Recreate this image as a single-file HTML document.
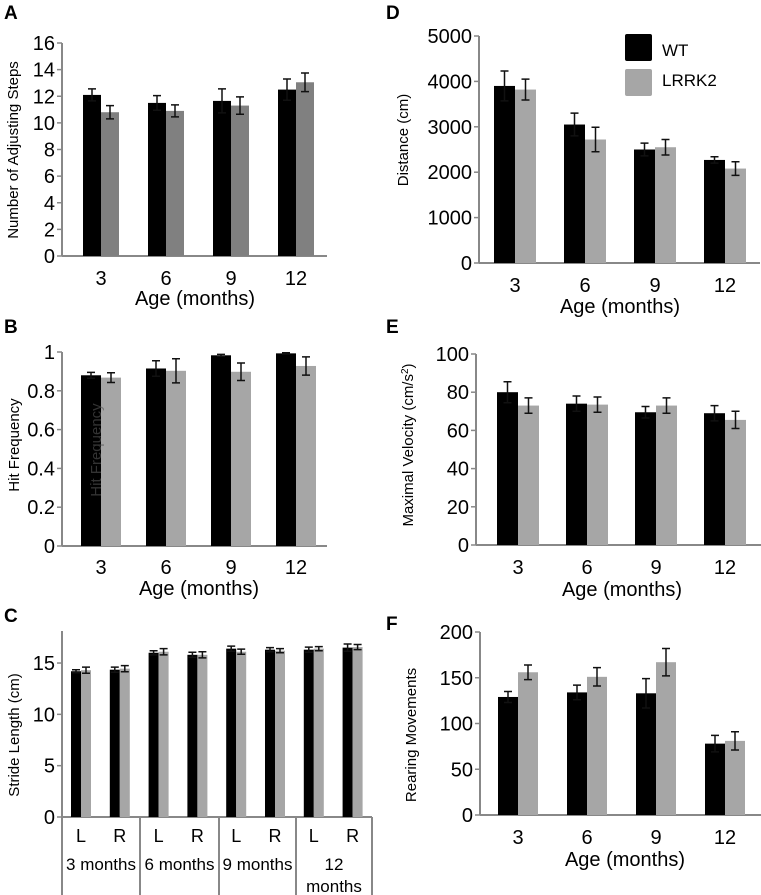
<!DOCTYPE html>
<html><head><meta charset="utf-8"><style>
html,body{margin:0;padding:0;background:#fff;}
svg{display:block;font-family:"Liberation Sans",Arial,sans-serif;}
</style></head><body>
<svg id="fig" width="761" height="895" viewBox="0 0 761 895">
<g font-weight="bold" font-size="19">
<text x="4" y="19">A</text>
<text x="4" y="333">B</text>
<text x="4" y="622">C</text>
<text x="386" y="19">D</text>
<text x="386" y="333">E</text>
<text x="386" y="630">F</text>
</g>
<g>
<rect x="625" y="34" width="27" height="27" rx="2" fill="#000"/>
<text x="662" y="56" font-size="17">WT</text>
<rect x="625" y="69" width="27" height="27" rx="2" fill="#a6a6a6"/>
<text x="662" y="86" font-size="17">LRRK2</text>
</g>
</svg>
<script>
const ages = ["3","6","9","12"];
const aWT = [12.1,11.5,11.65,12.5];
const aWTerr = [0.45,0.55,0.9,0.8];
const aLR = [10.8,10.9,11.3,13.05];
const aLRerr = [0.5,0.45,0.65,0.7];
const aTicks = [0,2,4,6,8,10,12,14,16];
const bWT = [0.88,0.915,0.983,0.993];
const bWTerr = [0.015,0.04,0.005,0.003];
const bLR = [0.868,0.903,0.898,0.928];
const bLRerr = [0.025,0.062,0.045,0.047];
const bTicks = [0,0.2,0.4,0.6,0.8,1];
const bTickLabels = ["0","0.2","0.4","0.6","0.8","1"];
const cCats = ["L","R","L","R","L","R","L","R"];
const cWT = [14.2,14.35,16.0,15.8,16.4,16.3,16.3,16.5];
const cWTerr = [0.15,0.25,0.2,0.25,0.25,0.2,0.25,0.35];
const cLR = [14.3,14.45,16.1,15.8,16.1,16.2,16.4,16.55];
const cLRerr = [0.3,0.3,0.3,0.3,0.25,0.2,0.2,0.25];
const cTicks = [0,5,10,15];
const dWT = [3900,3050,2500,2270];
const dWTerr = [330,250,140,70];
const dLR = [3820,2720,2550,2080];
const dLRerr = [230,270,170,150];
const dTicks = [0,1000,2000,3000,4000,5000];
const eWT = [80,74,69.5,69];
const eWTerr = [5.5,4,3,4];
const eLR = [73,73.5,73,65.5];
const eLRerr = [4,4,4,4.5];
const eTicks = [0,20,40,60,80,100];
const fWT = [129,134,133,78];
const fWTerr = [6,8,16,9];
const fLR = [156,151,167,81];
const fLRerr = [8,10,15,10];
const fTicks = [0,50,100,150,200];

const NS = "http://www.w3.org/2000/svg";
const svg = document.getElementById("fig");
function mk(tag, attrs, parent){
  const e = document.createElementNS(NS, tag);
  for (const k in attrs) e.setAttribute(k, attrs[k]);
  (parent||svg).appendChild(e);
  return e;
}
function panel(p){
  const g = mk("g", {});
  
  
  const y = v => p.yBot - (v / p.max) * (p.yBot - p.yTop);
  const x = i => p.c0 + i * p.gap;
  const ax = mk("line", {x1:p.x0, y1:p.axisTop, x2:p.x0, y2:p.axisBottom||p.yBot, stroke:"#888", "stroke-width":2}, g);
  
  
  const xl = mk("line", {x1:p.x0, y1:p.yBot, x2:p.x1, y2:p.yBot, stroke:"#888", "stroke-width":2}, g);
  
  
  p.ticks.forEach((t, i) => {
    const tl = mk("line", {x1:p.x0-5, y1:y(t), x2:p.x0, y2:y(t), stroke:"#888", "stroke-width":1.5}, g);
    
    
    const tx = mk("text", {x:p.x0-7, y:y(t)+7, "text-anchor":"end", "font-size":p.tf||20}, g);
    tx.textContent = p.tickLabels ? p.tickLabels[i] : String(t);
    
    
  });
  p.wt.forEach((v, i) => {
    const cx = x(i);
    [[v, p.wtErr[i], "#000", cx - p.bw, "wt"], [p.lr[i], p.lrErr[i], p.gray, cx, "lrrk2"]].forEach(s => {
      const r = mk("rect", {x:s[3], y:y(s[0]), width:p.bw, height:p.yBot - y(s[0]), fill:s[2]}, g);
      
      
      const ex = s[3] + p.bw/2, hi = y(s[0] + s[1]), lo = y(s[0] - s[1]);
      const eb = mk("path", {d:`M${ex},${hi}V${lo}M${ex-4},${hi}H${ex+4}M${ex-4},${lo}H${ex+4}`, stroke:"#111", "stroke-width":1.5, fill:"none"}, g);
      
      
    });
    const lab = mk("text", {x:cx, y:p.labY, "text-anchor":"middle", "font-size":p.lf||20}, g);
    lab.textContent = p.cats[i];
    
    
  });
  if (p.xTitle){
    const t = mk("text", {x:p.xtX, y:p.xtY, "text-anchor":"middle", "font-size":20}, g);
    t.textContent = p.xTitle;
    
    
  }
  const yt = mk("text", {transform:`translate(${p.ytX},${p.ytY}) rotate(-90)`, "text-anchor":"middle", "font-size":p.ytf||15}, g);
  yt.textContent = p.yTitle;
  if (p.sup){ const ts = mk("tspan", {"font-size":10, dy:-5}, yt); ts.textContent = "2"; const t2 = mk("tspan", {dy:5}, yt); t2.textContent = ")"; }
  
  
}
panel({id:"a", x0:62, x1:327, yTop:43, yBot:256, axisTop:43, max:16, ticks:aTicks, c0:101, gap:65, bw:18, gray:"#808080",
  wt:aWT, wtErr:aWTerr, lr:aLR, lrErr:aLRerr, cats:ages, labY:285, xTitle:"Age (months)", xtX:195, xtY:305, yTitle:"Number of Adjusting Steps", ytX:18, ytY:150});
panel({id:"b", x0:62, x1:327, yTop:352, yBot:546, axisTop:352, max:1, ticks:bTicks, tickLabels:bTickLabels, c0:101, gap:65, bw:20, gray:"#a6a6a6",
  wt:bWT, wtErr:bWTerr, lr:bLR, lrErr:bLRerr, cats:ages, labY:574, xTitle:"Age (months)", xtX:199, xtY:595, yTitle:"Hit Frequency", ytX:19, ytY:445});
panel({id:"c", x0:62, x1:372, yTop:611.7, yBot:817, axisTop:631, axisBottom:895, max:20, ticks:cTicks, c0:81, gap:38.8, bw:10, gray:"#a6a6a6",
  wt:cWT, wtErr:cWTerr, lr:cLR, lrErr:cLRerr, cats:cCats, labY:842, lf:18, yTitle:"Stride Length (cm)", ytX:19, ytY:735});
panel({id:"d", x0:479, x1:760, yTop:36, yBot:263, axisTop:36, max:5000, ticks:dTicks, c0:515, gap:70, bw:21, gray:"#a6a6a6",
  wt:dWT, wtErr:dWTerr, lr:dLR, lrErr:dLRerr, cats:ages, labY:292, xTitle:"Age (months)", xtX:620, xtY:313, yTitle:"Distance (cm)", ytX:408, ytY:140});
panel({id:"e", x0:476, x1:761, yTop:354, yBot:545, axisTop:354, max:100, ticks:eTicks, c0:518, gap:69, bw:21, gray:"#a6a6a6",
  wt:eWT, wtErr:eWTerr, lr:eLR, lrErr:eLRerr, cats:ages, labY:574, xTitle:"Age (months)", xtX:622, xtY:596, yTitle:"Maximal Velocity (cm/s", sup:true, ytX:413, ytY:445});
panel({id:"f", x0:480, x1:761, yTop:632, yBot:815, axisTop:632, max:200, ticks:fTicks, c0:518, gap:69, bw:20, gray:"#a6a6a6",
  wt:fWT, wtErr:fWTerr, lr:fLR, lrErr:fLRerr, cats:ages, labY:844, xTitle:"Age (months)", xtX:625, xtY:866, yTitle:"Rearing Movements", ytX:416, ytY:735});
const ghost = mk("text", {transform:"translate(101,450) rotate(-90)", "text-anchor":"middle", "font-size":15, fill:"#555", "fill-opacity":"0.6"});
ghost.textContent = "Hit Frequency";


const boxX = [140,219,296,372];
boxX.forEach(bx => {
  const l = mk("line", {x1:bx, y1:817, x2:bx, y2:895, stroke:"#888", "stroke-width":2});
  
  
});
const months = [["3 months"],["6 months"],["9 months"],["12","months"]];
const monthCx = [101,179.5,257.5,334];
months.forEach((m, i) => {
  m.forEach((line, j) => {
    const t = mk("text", {x:monthCx[i], y:870 + j*22, "text-anchor":"middle", "font-size":17});
    t.textContent = line;
    
    
  });
});
</script>
</body></html>
